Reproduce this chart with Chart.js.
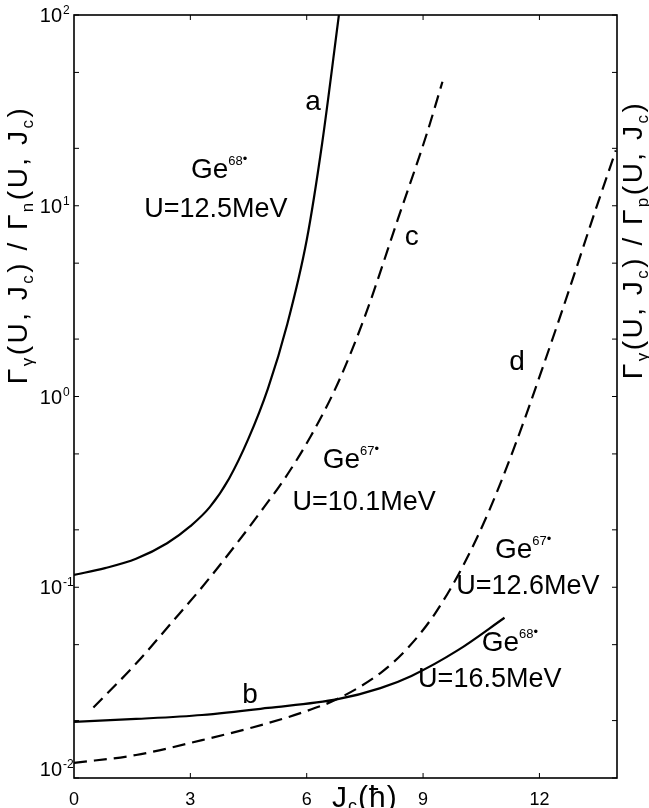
<!DOCTYPE html>
<html>
<head>
<meta charset="utf-8">
<script src="https://cdn.jsdelivr.net/npm/chart.js@4/dist/chart.umd.min.js"></script>
<style>
html,body{margin:0;padding:0;background:#fff}
#wrap{width:649px;height:808px}
</style>
</head>
<body>
<div id="wrap"><canvas id="c" width="649" height="808"></canvas></div>
<script>
/* Gamma_gamma / Gamma_n,p ratio vs J_c */
const jA=[0,0.8,1.6,2.4,3.0,3.5,4.0,4.5,5.0,5.5,6.0,6.4,6.83];
const rA=[0.116,0.126,0.141,0.170,0.209,0.263,0.372,0.603,1.10,2.40,6.61,21.4,100];
const jB=[0,1.6,3.3,5.0,6.8,7.9,8.7,9.9,11.1];
const rB=[0.0197,0.0204,0.0214,0.0233,0.0259,0.0296,0.0343,0.0468,0.0692];
const jC=[0.5,1.6,2.5,3.3,4.2,4.9,5.4,6.1,6.8,7.5,8.35,9.1,9.5];
const rC=[0.0234,0.0398,0.0646,0.100,0.170,0.263,0.363,0.617,1.17,2.63,8.5,24,44.7];
const jD=[0,1.6,3.3,4.6,5.9,6.8,7.9,8.6,9.3,10.0,10.7,11.4,12.1,12.8,13.4,13.97];
const rD=[0.0120,0.0132,0.0158,0.0184,0.0221,0.0260,0.0355,0.0479,0.0724,0.126,0.251,0.575,1.45,3.80,8.91,19.5];
const xTicks=[0,3,6,9,12];
const yDecades=[-2,-1,0,1,2];

const FONT='"Liberation Sans", Arial, sans-serif';
const pts=(js,rs)=>js.map((j,i)=>({x:j,y:rs[i]}));
const iso=(m)=>[['Ge',28,0],[m,13,-13],['\u2022',13,-15]];

// text labels placed in data units (J, ratio)
const NOTES=[
  {parts:[['a',28,0]], j:6.16, v:35.8},
  {parts:iso('68'), j:3.74, v:15.8},
  {parts:[['U=12.5MeV',27,0]], j:3.66, v:9.85},
  {parts:[['c',28,0]], j:8.71, v:7.03},
  {parts:iso('67'), j:7.14, v:0.476},
  {parts:[['U=10.1MeV',27,0]], j:7.48, v:0.286},
  {parts:[['d',28,0]], j:11.42, v:1.55},
  {parts:iso('67'), j:11.58, v:0.161},
  {parts:[['U=12.6MeV',27,0]], j:11.70, v:0.104},
  {parts:[['b',28,0]], j:4.54, v:0.0279},
  {parts:iso('68'), j:11.24, v:0.0522},
  {parts:[['U=16.5MeV',27,0]], j:10.72, v:0.0339}
];

function rich(ctx,parts,x,y,align){
  let w=0;
  parts.forEach(p=>{ctx.font=p[1]+'px '+FONT; w+=ctx.measureText(p[0]).width;});
  let cx = align==='center' ? x-w/2 : (align==='right' ? x-w : x);
  parts.forEach(p=>{ctx.font=p[1]+'px '+FONT; ctx.fillText(p[0],cx,y+p[2]); cx+=ctx.measureText(p[0]).width;});
}

const deco={
  id:'deco',
  afterDraw(chart){
    const ctx=chart.ctx, a=chart.chartArea, xs=chart.scales.x, ys=chart.scales.y;
    ctx.save();
    ctx.strokeStyle='#000'; ctx.fillStyle='#000';
    ctx.lineWidth=1.6;
    ctx.strokeRect(a.left,a.top,a.right-a.left,a.bottom-a.top);
    // inner ticks
    ctx.lineWidth=1;
    ctx.beginPath();
    yDecades.forEach(d=>[1,2,5].forEach(m=>{
      const v=m*Math.pow(10,d);
      if(v<0.0099||v>100.1) return;
      const y=ys.getPixelForValue(v);
      ctx.moveTo(a.left,y); ctx.lineTo(a.left+5,y);
      ctx.moveTo(a.right,y); ctx.lineTo(a.right-5,y);
    }));
    xTicks.forEach(t=>{
      if(t===0) return;
      const x=xs.getPixelForValue(t);
      ctx.moveTo(x,a.bottom); ctx.lineTo(x,a.bottom-5);
      ctx.moveTo(x,a.top); ctx.lineTo(x,a.top+5);
    });
    ctx.stroke();
    // y tick labels 10^n
    ctx.textBaseline='alphabetic';
    yDecades.forEach(d=>{
      let y=ys.getPixelForValue(Math.pow(10,d));
      y=Math.min(y,a.bottom-9);
      ctx.textAlign='right'; ctx.font='20px '+FONT;
      ctx.fillText('10',62,y+7);
      ctx.textAlign='left'; ctx.font='12px '+FONT;
      ctx.fillText(d<0?('-'+(-d)):String(d),63,y-1);
    });
    // x title
    ctx.textAlign='left';
    ctx.save(); ctx.letterSpacing='1px';
    rich(ctx,[['J',30,0],['c',18,5],['(\u0127)',30,0]],xs.getPixelForValue(7.5),807,'center');
    ctx.restore();
    // axis titles, rotated
    const title=(sub)=>[['\u0393',28,0],['\u03b3',17,6],['(U, J',28,0],['c',17,6],[') / \u0393',28,0],[sub,17,6],['(U, J',28,0],['c',17,6],[')',28,0]];
    ctx.save(); ctx.translate(27,245); ctx.rotate(-Math.PI/2);
    ctx.letterSpacing='2.5px';
    rich(ctx,title('n'),0,0,'center'); ctx.restore();
    ctx.save(); ctx.translate(642,240); ctx.rotate(-Math.PI/2);
    ctx.letterSpacing='2.5px';
    rich(ctx,title('p'),0,0,'center'); ctx.restore();
    // curve labels
    NOTES.forEach(n=>{
      const x=xs.getPixelForValue(n.j), y=ys.getPixelForValue(n.v);
      rich(ctx,n.parts,x,y+10,'center');
    });
    ctx.restore();
  }
};

const line=(js,rs,dash)=>({data:pts(js,rs),borderColor:'#000',borderWidth:2.2,borderDash:dash,
  pointRadius:0,fill:false,cubicInterpolationMode:'monotone'});

new Chart(document.getElementById('c'),{
  type:'line',
  data:{datasets:[
    line(jA,rA,[]),
    line(jB,rB,[]),
    line(jC,rC,[13,7]),
    line(jD,rD,[13,7])
  ]},
  options:{
    responsive:false,animation:false,
    layout:{padding:{top:15,right:32,left:0,bottom:0}},
    plugins:{legend:{display:false},tooltip:{enabled:false}},
    scales:{
      x:{type:'linear',min:0,max:14,border:{display:false},grid:{display:false},
         ticks:{stepSize:3,padding:3,color:'#000',autoSkip:false,maxRotation:0,
                font:{family:FONT,size:18},callback:v=>xTicks.includes(v)?String(v):''},
         afterFit:s=>{s.height=30;}},
      y:{type:'logarithmic',min:0.01,max:100,border:{display:false},grid:{display:false},
         ticks:{display:false},afterFit:s=>{s.width=74;}}
    }
  },
  plugins:[deco]
});
</script>
</body>
</html>
